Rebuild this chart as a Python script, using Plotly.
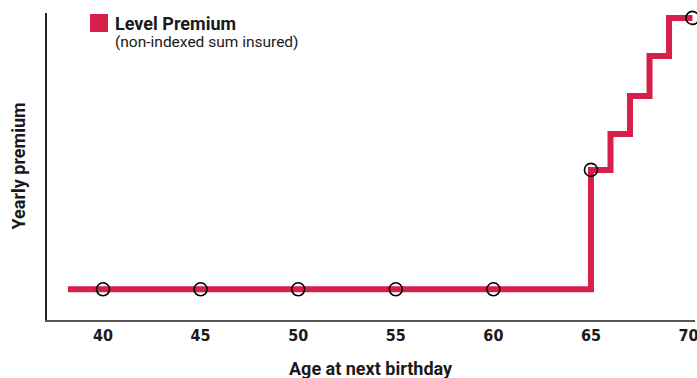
import plotly.graph_objects as go

# Data
line_age = [38.2, 40, 45, 50, 55, 60, 65, 66, 67, 68, 69, 70.2]
line_premium = [1.0, 1.0, 1.0, 1.0, 1.0, 1.0, 4.89, 6.06, 7.30, 8.6, 9.84, 9.84]
marker_age = [40, 45, 50, 55, 60, 65, 70.2]
marker_premium = [1.0, 1.0, 1.0, 1.0, 1.0, 4.89, 9.84]
tick_vals = [40, 45, 50, 55, 60, 65, 70]
tick_text = ["40", "45", "50", "55", "60", "65", "70"]

RED = "#d6204a"
TXT = "#1a1a1a"

fig = go.Figure()
fig.add_trace(go.Scatter(x=line_age, y=line_premium, mode="lines",
                         line=dict(color=RED, width=6, shape="hv"),
                         hoverinfo="skip", showlegend=False, cliponaxis=False))
fig.add_trace(go.Scatter(x=marker_age, y=marker_premium, mode="markers",
                         marker=dict(symbol="circle-open", size=13, color="black",
                                     line=dict(width=1.6, color="black")),
                         showlegend=False, cliponaxis=False))

fig.update_layout(
    width=697, height=378,
    margin=dict(l=47, r=2, t=13, b=58, autoexpand=False),
    paper_bgcolor="white", plot_bgcolor="white",
    xaxis=dict(range=[37.13, 70.33], tickvals=tick_vals, ticktext=tick_text,
               showgrid=False, zeroline=False, showline=True, linecolor="#555555",
               linewidth=1.5, ticks="", ticklen=0, ticklabeloverflow="allow",
               automargin=False,
               tickfont=dict(family="Liberation Sans Narrow, DejaVu Sans Condensed", size=16, color=TXT, weight="bold")),
    yaxis=dict(range=[0, 10], showticklabels=False, showgrid=False, zeroline=False,
               showline=True, linecolor="#222222", linewidth=1.5, ticks="", automargin=False),
    annotations=[
        dict(text="<b>Age at next birthday</b>", xref="paper", yref="paper",
             x=0.5, y=0, yshift=-48, xanchor="center", yanchor="middle", showarrow=False,
             font=dict(family="Roboto, Arial", size=18, color=TXT)),
        dict(text="<b>Yearly premium</b>", xref="paper", yref="paper",
             x=0, xshift=-29, y=0.5, textangle=-90, xanchor="center", yanchor="middle",
             showarrow=False, font=dict(family="Roboto, Arial", size=18, color=TXT)),
        dict(text="<b>Level Premium</b>", xref="paper", yref="paper",
             x=0, xshift=66, y=1, yshift=-10, xanchor="left", yanchor="middle",
             showarrow=False, font=dict(family="Roboto, Arial", size=18, color=TXT)),
        dict(text="(non-indexed sum insured)", xref="paper", yref="paper",
             x=0, xshift=66, y=1, yshift=-29, xanchor="left", yanchor="middle",
             showarrow=False, font=dict(family="Roboto, Arial", size=15.5, color=TXT)),
    ],
    shapes=[dict(type="rect", xref="paper", yref="paper",
                 x0=43, x1=61, y0=-1, y1=-19, xsizemode="pixel", ysizemode="pixel",
                 xanchor=0, yanchor=1,
                 line=dict(width=0), fillcolor=RED)],
)

fig.write_html("out.html")
